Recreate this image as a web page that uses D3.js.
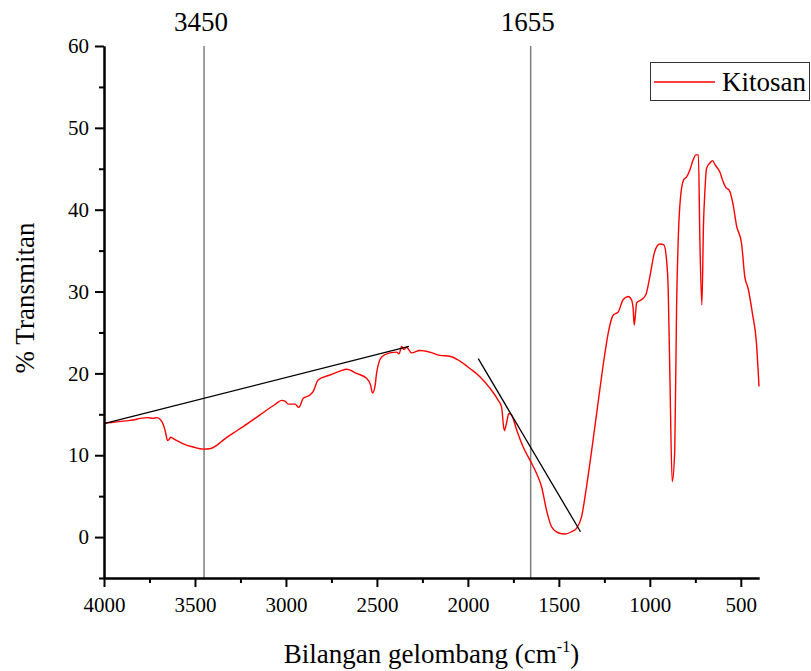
<!DOCTYPE html>
<html>
<head>
<meta charset="utf-8">
<script src="https://cdn.jsdelivr.net/npm/d3@7"></script>
<style>
  html, body { margin: 0; padding: 0; background: #fff; }
  svg { display: block; font-family: "Liberation Serif", "Times New Roman", serif; }
  svg text { font-family: "Liberation Serif", "Times New Roman", serif; }
</style>
</head>
<body>
<div id="chart"></div>
<script>
"use strict";

// wavenumber (cm-1) and % transmittance
var wavenumbers = [4000, 3960, 3920, 3880, 3840, 3800, 3760, 3730, 3710, 3692, 3675, 3665, 3650, 3640,
  3634, 3610, 3564, 3509, 3454, 3418, 3380, 3345, 3290, 3235, 3170, 3107, 3060, 3024, 3005, 2987,
  2951, 2929, 2905, 2868, 2850, 2823, 2758, 2700, 2666, 2612, 2557, 2535, 2524, 2510, 2502, 2474,
  2429, 2392, 2378, 2364, 2352, 2337, 2309, 2264, 2210, 2154, 2099, 2044, 1989, 1934, 1879, 1833,
  1815, 1800, 1788, 1775, 1760, 1732, 1696, 1659, 1623, 1595, 1568, 1540, 1504, 1467, 1430, 1403,
  1375, 1348, 1312, 1275, 1250, 1229, 1202, 1174, 1147, 1119, 1101, 1092, 1086, 1078, 1073, 1046,
  1022, 1000, 973, 945, 923, 908, 899, 890, 877, 863, 853, 844, 831, 813, 798, 780, 762, 747, 733,
  725, 714, 705, 698, 688, 670, 655, 642, 615, 597, 582, 564, 542, 524, 496, 478, 460, 436, 414, 400];
var transmittance = [13.9, 14.0, 14.1, 14.2, 14.3, 14.5, 14.6, 14.5, 14.6, 14.4, 13.8, 13.1, 11.8, 12.0,
  12.2, 11.9, 11.4, 11.0, 10.75, 10.8, 11.2, 11.85, 12.7, 13.5, 14.5, 15.5, 16.2, 16.7, 16.6, 16.25,
  16.25, 15.85, 16.95, 17.35, 17.8, 19.2, 19.8, 20.3, 20.5, 20.0, 19.4, 18.6, 17.6, 18.5, 20.0, 22.0,
  22.5, 22.6, 22.4, 23.3, 22.9, 23.2, 22.5, 22.8, 22.6, 22.2, 22.1, 21.5, 20.6, 19.6, 18.2, 16.7,
  15.9, 13.0, 13.9, 15.1, 14.9, 13.1, 11.0, 9.4, 7.8, 6.15, 3.3, 1.26, 0.53, 0.37, 0.65, 1.06,
  2.5, 6.15, 11.85, 18.0, 22.0, 24.9, 27.1, 27.5, 29.0, 29.4, 29.0, 28.0, 25.9, 27.5, 28.6, 29.0,
  29.6, 31.8, 34.9, 35.8, 35.7, 33.85, 30.2, 20.0, 6.76, 10.6, 28.1, 36.3, 41.6, 43.7, 44.0, 44.85, 46.1, 46.7, 46.7,
  36.3, 28.35, 38.3, 42.0, 45.06, 45.7, 46.0, 45.5, 44.6, 43.4, 42.7, 42.4, 40.6, 38.1, 35.9, 31.8, 30.4, 27.3, 23.7, 18.4];

// marked peaks (vertical lines) and the two drawn tangent lines
var markerPeaks = [3450, 1655];
var tangentA = [[3995, 13.9], [2324, 23.3]];
var tangentB = [[1943, 21.8], [1381, 0.65]];

var xMajorTicks = [4000, 3500, 3000, 2500, 2000, 1500, 1000, 500];
var xMinorTicks = [3750, 3250, 2750, 2250, 1750, 1250, 750];
var yMajorTicks = [0, 10, 20, 30, 40, 50, 60];
var yMinorTicks = [-5, 5, 15, 25, 35, 45, 55];

var seriesName = "Kitosan";

var width = 811, height = 671;
var plotLeft = 104, plotRight = 759, plotTop = 46, plotBottom = 578;
var serif = '"Liberation Serif", "Times New Roman", serif';

var svg = d3.select("#chart").append("svg")
  .attr("width", width)
  .attr("height", height);

svg.append("rect").attr("width", width).attr("height", height).attr("fill", "#fff");

var x = d3.scaleLinear().domain([4000, 400]).range([plotLeft, plotRight]);
var y = d3.scaleLinear().domain([-5, 60]).range([plotBottom, plotTop]);

// vertical peak lines
svg.selectAll(".peak-line").data(markerPeaks).enter().append("line")
  .attr("class", "peak-line")
  .attr("x1", function (d) { return x(d); })
  .attr("x2", function (d) { return x(d); })
  .attr("y1", y(60))
  .attr("y2", y(-5))
  .attr("stroke", "#7f7f7f")
  .attr("stroke-width", 1.5);

svg.selectAll(".peak-label").data(markerPeaks).enter().append("text")
  .attr("class", "peak-label")
  .attr("x", function (d) { return x(d) - 3; })
  .attr("y", 31)
  .attr("text-anchor", "middle")
  .attr("font-size", 27)
  .text(function (d) { return d; });

// spectrum
var points = wavenumbers.map(function (w, i) { return [w, transmittance[i]]; });
var line = d3.line()
  .x(function (d) { return x(d[0]); })
  .y(function (d) { return y(d[1]); })
  .curve(d3.curveMonotoneX);

svg.append("path")
  .datum(points)
  .attr("d", line)
  .attr("fill", "none")
  .attr("stroke", "#ff0000")
  .attr("stroke-width", 1.4);

// tangent lines
var straight = d3.line()
  .x(function (d) { return x(d[0]); })
  .y(function (d) { return y(d[1]); });
[tangentA, tangentB].forEach(function (t) {
  svg.append("path")
    .attr("d", straight(t))
    .attr("fill", "none")
    .attr("stroke", "#000")
    .attr("stroke-width", 1.3);
});

// axes
function styleAxis(g) {
  g.attr("font-family", null).attr("font-size", null);
  g.selectAll("path, line").attr("stroke", "#000").attr("stroke-width", 2);
  g.selectAll("text").attr("fill", "#000")
    .style("font-size", "21px")
    .style("font-family", serif);
}

svg.append("g")
  .attr("transform", "translate(0," + plotBottom + ")")
  .call(d3.axisBottom(x).tickValues(xMinorTicks).tickSize(5).tickSizeOuter(0).tickFormat(""))
  .call(styleAxis);

svg.append("g")
  .attr("transform", "translate(0," + plotBottom + ")")
  .call(d3.axisBottom(x).tickValues(xMajorTicks).tickSize(9).tickSizeOuter(0).tickPadding(10).tickFormat(d3.format("d")))
  .call(styleAxis);

svg.append("g")
  .attr("transform", "translate(" + plotLeft + ",0)")
  .call(d3.axisLeft(y).tickValues(yMinorTicks).tickSize(5).tickSizeOuter(0).tickFormat(""))
  .call(styleAxis);

svg.append("g")
  .attr("transform", "translate(" + plotLeft + ",0)")
  .call(d3.axisLeft(y).tickValues(yMajorTicks).tickSize(9).tickSizeOuter(0).tickPadding(6).tickFormat(d3.format("d")))
  .call(styleAxis);

// axis titles
var xTitle = svg.append("text")
  .attr("x", (plotLeft + plotRight) / 2)
  .attr("y", 663)
  .attr("text-anchor", "middle")
  .attr("font-size", 27);
xTitle.append("tspan").text("Bilangan gelombang (cm");
xTitle.append("tspan").attr("font-size", 16).attr("dy", -11).text("-1");
xTitle.append("tspan").attr("dy", 11).text(")");

svg.append("text")
  .attr("transform", "translate(34,298) rotate(-90)")
  .attr("text-anchor", "middle")
  .attr("font-size", 27)
  .text("% Transmitan");

// legend
var legend = svg.append("g");
legend.append("rect")
  .attr("x", 650.5).attr("y", 62.5)
  .attr("width", 159).attr("height", 38)
  .attr("fill", "#fff")
  .attr("stroke", "#333")
  .attr("stroke-width", 1);
legend.append("line")
  .attr("x1", 654).attr("x2", 715)
  .attr("y1", 82).attr("y2", 82)
  .attr("stroke", "#ff0000")
  .attr("stroke-width", 1.3);
legend.append("text")
  .attr("x", 722).attr("y", 91)
  .attr("font-size", 27)
  .text(seriesName);
</script>
</body>
</html>
